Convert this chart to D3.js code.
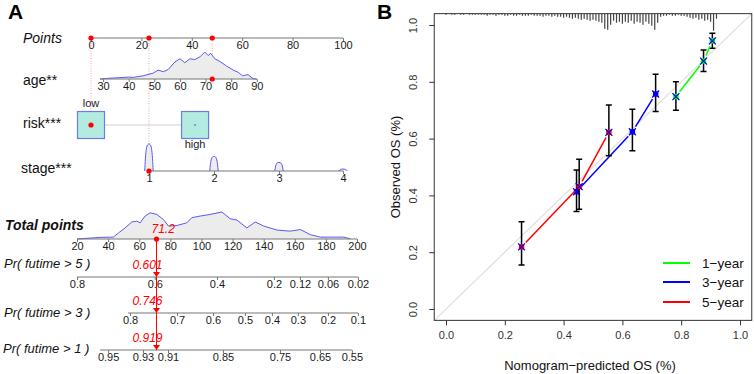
<!DOCTYPE html>
<html>
<head>
<meta charset="utf-8">
<script src="https://cdnjs.cloudflare.com/ajax/libs/d3/7.8.5/d3.min.js"></script>
<style>
body { margin: 0; background: #fff; }
svg { display: block; font-family: "Liberation Sans", Arial, Helvetica, sans-serif; }
</style>
</head>
<body>
<script>
// ---------- panel A: nomogram ----------
var pointTicks = [0, 20, 40, 60, 80, 100];
var ageTicks = [30, 40, 50, 60, 70, 80, 90];
var ageDomain = [30, 90];
var agePointRange = [4.8, 65.8];
var ageGrid = [28.8, 32.7, 36.6, 39.9, 41.8, 45.7, 49.6, 51.5, 53.5, 55.4, 58, 60, 61.9, 63.9, 65.8, 67.8, 69.7, 71, 72, 73.6, 75.6, 78.2, 80.8, 82.7, 84.4, 86.6, 88.6, 89.9];
var ageDens = [0, .03, .05, .07, .06, .12, .22, .33, .27, .35, .63, .75, .60, .75, .72, .82, 1.0, .87, .95, .75, .65, .48, .33, .25, .12, .16, .01, 0];
var riskLevels = ["low", "high"];
var riskPoints = [0, 41.3];
var stageLevels = [1, 2, 3, 4];
var stagePoints = [23, 48.8, 74.6, 100];
var stageDens = [1, 0.54, 0.32, 0.07];
var bumpOffset = [-0.065, -0.055, -0.04, -0.02, 0, 0.02, 0.04, 0.055, 0.065];
var bumpShape = [0, 0.45, 0.82, 0.97, 1, 0.97, 0.82, 0.45, 0];
var totalTicks = [20, 40, 60, 80, 100, 120, 140, 160, 180, 200];
var totGrid = [20, 34.7, 43.3, 46.6, 50.9, 55.2, 58.4, 60.6, 63.8, 67, 71.3, 75.6, 78.8, 84.2, 90.6, 93.8, 99.2, 105.6, 113.1, 118.5, 122.8, 129.2, 134.6, 140, 148.6, 157.1, 163.6, 170, 176.4, 185, 191.4, 195.7];
var totDens = [0, .06, .07, .22, .41, .63, .66, .60, .85, .97, .91, .72, .48, .50, .60, .79, .85, .91, 1.0, .75, .70, .41, .63, .48, .33, .29, .35, .16, .07, .07, .07, .01];
var pr5Labels = ["0.8", "0.6", "0.4", "0.2", "0.12", "0.06", "0.02"];
var pr5At = [20, 70, 110, 146.6, 163.3, 181.3, 200.6];
var pr3Labels = ["0.8", "0.7", "0.6", "0.5", "0.4", "0.3", "0.2", "0.1"];
var pr3At = [54.1, 84.3, 107.4, 128, 145.3, 162, 181.3, 200.6];
var pr1Labels = ["0.95", "0.93", "0.91", "0.85", "0.75", "0.65", "0.55"];
var pr1At = [40, 62.4, 78.5, 113.8, 150.5, 176.2, 196.7];
var patientAge = 72.6, patientRisk = "low", patientStage = 1;
var totalLabel = "71.2";
var prLabels = ["0.601", "0.746", "0.919"];

// ---------- panel B: calibration ----------
var seriesNames = ["1\u2212year", "3\u2212year", "5\u2212year"];
var pred1 = [0.782, 0.876, 0.906], obs1 = [0.748, 0.873, 0.944], lo1 = [0.70, 0.836, 0.918], hi1 = [0.80, 0.912, 0.971];
var pred3 = [0.444, 0.634, 0.713], obs3 = [0.413, 0.624, 0.757], lo3 = [0.343, 0.557, 0.695], hi3 = [0.489, 0.703, 0.827];
var pred5 = [0.257, 0.453, 0.554], obs5 = [0.219, 0.431, 0.622], lo5 = [0.155, 0.351, 0.54], hi5 = [0.307, 0.527, 0.718];
var axisTicksB = [0, 0.2, 0.4, 0.6, 0.8, 1.0];
var rugStep = 0.01;
var rugCounts = [1,0,1,1,0,1,1,0,1,1,1,
  1,1,1,2,1,1,2,1,1,2,
  2,1,2,2,1,2,2,2,1,2,
  2,2,3,2,2,3,2,3,3,4,
  3,4,5,4,5,6,5,6,7,6,
  7,8,9,15,16,11,7,9,8,10,
  8,9,7,10,8,9,11,8,10,12,
  16,9,3,2,2,1,2,2,1,2,
  2,3,4,5,4,6,5,7,6,8,17,5];

var seriesColors = ["#00ff00", "#0000ff", "#ff0000"];

var svg = d3.select("body").append("svg")
    .attr("width", 754)
    .attr("height", 374);
svg.append("rect").attr("width", 754).attr("height", 374).attr("fill", "#fff");

// ================= panel A =================
var A = svg.append("g");
var rowY = { points: 38, age: 79, risk: 125, stage: 171, total: 239, pr5: 277, pr3: 313, pr1: 350 };

var ptsX = d3.scaleLinear().domain([0, 100]).range([91, 343]);
var totX = d3.scaleLinear().domain([20, 200]).range([77, 357]);
var agePts = d3.scaleLinear().domain(ageDomain).range(agePointRange);
var ageX = function (v) { return ptsX(agePts(v)); };
var stageX = d3.scaleLinear().domain(stageLevels).range(stagePoints.map(ptsX));
var densH = d3.scaleLinear().domain([0, 1]).range([0, 27]);

A.append("text").attr("x", 8).attr("y", 19).attr("font-size", 21).attr("font-weight", "bold").text("A");

function drawAxis(y, scale, values, labels, x0, x1) {
    A.append("line").attr("x1", x0).attr("x2", x1).attr("y1", y).attr("y2", y)
        .attr("stroke", "#777").attr("stroke-width", 1.2);
    var ax = d3.axisBottom(scale).tickValues(values).tickSize(3).tickSizeOuter(0).tickPadding(0)
        .tickFormat(function (d, i) { return labels ? labels[i] : d; });
    var g = A.append("g").attr("transform", "translate(0," + y + ")").call(ax);
    g.select(".domain").remove();
    g.selectAll("line").attr("stroke", "#777");
    g.selectAll("text").attr("font-size", 11).attr("fill", "#1a1a1a")
        .attr("font-family", "Liberation Sans, Arial, sans-serif");
}

function rowLabel(x, y, txt, size, italic, bold) {
    A.append("text").attr("x", x).attr("y", y).attr("dy", "0.35em")
        .attr("font-size", size)
        .attr("font-style", italic ? "italic" : "normal")
        .attr("font-weight", bold ? "bold" : "normal")
        .attr("fill", "#111").text(txt);
}

rowLabel(23, rowY.points, "Points", 14, true, false);
rowLabel(23, rowY.age + 1, "age**", 14, false, false);
rowLabel(23, rowY.risk - 2, "risk***", 14, false, false);
rowLabel(21, rowY.stage - 3, "stage***", 14, false, false);
rowLabel(5, 225, "Total points", 14, true, true);
rowLabel(4, 263, "Pr( futime > 5 )", 13, true, false);
rowLabel(4, 312, "Pr( futime > 3 )", 13, true, false);
rowLabel(3, 348, "Pr( futime > 1 )", 13, true, false);

// densities
var densFill = "#ececec", densLine = "#5a5af0";
function drawDensity(xs, grid, dens, y) {
    var pts = grid.map(function (g, i) { return [xs(g), y - densH(dens[i])]; });
    A.append("path").datum(pts)
        .attr("d", d3.area().x(function (d) { return d[0]; }).y0(y).y1(function (d) { return d[1]; }))
        .attr("fill", densFill);
    A.append("path").datum(pts)
        .attr("d", d3.line().x(function (d) { return d[0]; }).y(function (d) { return d[1]; }))
        .attr("fill", "none").attr("stroke", densLine).attr("stroke-width", 1);
}

// patient selections
var ageP = agePts(patientAge);
var riskP = riskPoints[riskLevels.indexOf(patientRisk)];
var stageP = stagePoints[stageLevels.indexOf(patientStage)];
var totalP = ageP + riskP + stageP;

// pink guide lines
var guides = [[ptsX(riskP), rowY.risk], [ptsX(stageP), rowY.stage], [ptsX(ageP), rowY.age]];
guides.forEach(function (g) {
    A.append("line").attr("x1", g[0]).attr("x2", g[0]).attr("y1", rowY.points).attr("y2", g[1])
        .attr("stroke", "#f28a8a").attr("stroke-width", 0.8).attr("stroke-dasharray", "1,1.5");
});

// Points axis
drawAxis(rowY.points, ptsX, pointTicks, null, ptsX(0), ptsX(100));

// age
drawDensity(ageX, ageGrid, ageDens, rowY.age);
var ageAxisScale = d3.scaleLinear().domain(ageDomain).range([ageX(30), ageX(90)]);
drawAxis(rowY.age, ageAxisScale, ageTicks, null, ageX(ageGrid[0]), ageX(90));

// risk boxes
var box = 27;
A.append("line").attr("x1", ptsX(riskPoints[0]) + box / 2).attr("x2", ptsX(riskPoints[1]) - box / 2)
    .attr("y1", rowY.risk).attr("y2", rowY.risk).attr("stroke", "#cfcfcf").attr("stroke-width", 1);
riskLevels.forEach(function (lv, i) {
    var cx = ptsX(riskPoints[i]);
    A.append("rect").attr("x", cx - box / 2).attr("y", rowY.risk - box / 2)
        .attr("width", box).attr("height", box)
        .attr("fill", "#b3ebe1").attr("stroke", "#6b7de8").attr("stroke-width", 1.2);
    A.append("circle").attr("cx", cx).attr("cy", rowY.risk).attr("r", 0.7).attr("fill", "#333");
    A.append("text").attr("x", cx).attr("y", i === 0 ? rowY.risk - box / 2 - 8 : rowY.risk + box / 2 + 6)
        .attr("dy", "0.35em").attr("text-anchor", "middle").attr("font-size", 11).attr("fill", "#222").text(lv);
});

// stage bumps
stageLevels.forEach(function (lv, i) {
    var pts = bumpOffset.map(function (o, j) {
        return [stageX(lv) + o * (stageX(2) - stageX(1)), rowY.stage - densH(stageDens[i] * bumpShape[j])];
    });
    A.append("path").datum(pts)
        .attr("d", d3.area().x(function (d) { return d[0]; }).y0(rowY.stage).y1(function (d) { return d[1]; }).curve(d3.curveMonotoneX))
        .attr("fill", densFill);
    A.append("path").datum(pts)
        .attr("d", d3.line().x(function (d) { return d[0]; }).y(function (d) { return d[1]; }).curve(d3.curveMonotoneX))
        .attr("fill", "none").attr("stroke", densLine).attr("stroke-width", 1);
});
drawAxis(rowY.stage, stageX, stageLevels, null, stageX(1), stageX(4));

// total points
drawDensity(totX, totGrid, totDens, rowY.total);
drawAxis(rowY.total, totX, totalTicks, null, totX(20), totX(200));

// probability axes
drawAxis(rowY.pr5, totX, pr5At, pr5Labels, totX(pr5At[0]), totX(pr5At[pr5At.length - 1]));
drawAxis(rowY.pr3, totX, pr3At, pr3Labels, totX(pr3At[0]) - 2, totX(pr3At[pr3At.length - 1]));
drawAxis(rowY.pr1, totX, pr1At, pr1Labels, totX(pr1At[0]) - 8, totX(pr1At[pr1At.length - 1]));

// red result line, dots, triangles and labels
var tx = totX(totalP);
A.append("line").attr("x1", tx).attr("x2", tx).attr("y1", rowY.total).attr("y2", rowY.pr1)
    .attr("stroke", "#ff0000").attr("stroke-width", 1);
[[ptsX(0), rowY.points], [ptsX(stageP), rowY.points], [ptsX(ageP), rowY.points],
 [ptsX(ageP), rowY.age], [ptsX(riskP), rowY.risk], [ptsX(stageP), rowY.stage], [tx, rowY.total]]
    .forEach(function (p) {
        A.append("circle").attr("cx", p[0]).attr("cy", p[1]).attr("r", 2.6).attr("fill", "#ff0000");
    });
A.append("text").attr("x", tx - 5).attr("y", rowY.total - 6).attr("font-size", 12).attr("font-style", "italic")
    .attr("fill", "#ff0000").text(totalLabel);
[rowY.pr5, rowY.pr3, rowY.pr1].forEach(function (y, i) {
    A.append("path").attr("d", "M" + (tx - 3.5) + "," + (y - 5) + "L" + (tx + 3.5) + "," + (y - 5) + "L" + tx + "," + y + "Z")
        .attr("fill", "#ff0000");
    A.append("text").attr("x", tx + 6).attr("y", y - 8).attr("text-anchor", "end").attr("font-size", 12)
        .attr("font-style", "italic").attr("fill", "#ff0000").text(prLabels[i]);
});

// ================= panel B =================
var B = svg.append("g");
var bx = d3.scaleLinear().domain([0, 1]).range([446, 740]);
var by = d3.scaleLinear().domain([0, 1]).range([309, 25]);
var bx0 = bx(-0.04), bx1 = bx(1.04), by0 = by(-0.04), by1 = by(1.04);

B.append("text").attr("x", 377).attr("y", 19).attr("font-size", 21).attr("font-weight", "bold").text("B");

B.append("clipPath").attr("id", "clipB").append("rect")
    .attr("x", bx0).attr("y", by1).attr("width", bx1 - bx0).attr("height", by0 - by1);
var plot = B.append("g").attr("clip-path", "url(#clipB)");

// diagonal reference
plot.append("line").attr("x1", bx(-0.04)).attr("y1", by(-0.04)).attr("x2", bx(1.04)).attr("y2", by(1.04))
    .attr("stroke", "#e0e0e0").attr("stroke-width", 1.3);

// risk distribution rug
plot.selectAll("line.rug").data(rugCounts).enter().append("line").attr("class", "rug")
    .attr("x1", function (d, i) { return bx(i * rugStep); })
    .attr("x2", function (d, i) { return bx(i * rugStep); })
    .attr("y1", by1)
    .attr("y2", function (d) { return by1 + d; })
    .attr("stroke", "#444").attr("stroke-width", 1.2);

var series = [[pred1, obs1, lo1, hi1], [pred3, obs3, lo3, hi3], [pred5, obs5, lo5, hi5]];
series.forEach(function (s, k) {
    var col = seriesColors[k];
    var pred = s[0], obs = s[1], lo = s[2], hi = s[3];
    // error bars
    pred.forEach(function (p, i) {
        var x = bx(p);
        plot.append("line").attr("x1", x).attr("x2", x).attr("y1", by(lo[i])).attr("y2", by(hi[i]))
            .attr("stroke", "#000").attr("stroke-width", 1.5);
        [lo[i], hi[i]].forEach(function (v) {
            plot.append("line").attr("x1", x - 3).attr("x2", x + 3).attr("y1", by(v)).attr("y2", by(v))
                .attr("stroke", "#000").attr("stroke-width", 1.5);
        });
    });
    // connecting lines with gaps at the points
    for (var i = 0; i < pred.length - 1; i++) {
        var xa = bx(pred[i]), ya = by(obs[i]), xb = bx(pred[i + 1]), yb = by(obs[i + 1]);
        var len = Math.sqrt((xb - xa) * (xb - xa) + (yb - ya) * (yb - ya)), gap = 6;
        if (len <= 2 * gap) continue;
        var ux = (xb - xa) / len, uy = (yb - ya) / len;
        plot.append("line").attr("x1", xa + ux * gap).attr("y1", ya + uy * gap)
            .attr("x2", xb - ux * gap).attr("y2", yb - uy * gap)
            .attr("stroke", col).attr("stroke-width", 1.5);
    }
    // points and corrected estimates
    pred.forEach(function (p, i) {
        var x = bx(p), y = by(obs[i]);
        plot.append("rect").attr("x", x - 2.7).attr("y", y - 2.7).attr("width", 5.4).attr("height", 5.4).attr("fill", col);
        plot.append("path").attr("d", "M" + (x - 3.5) + "," + (y - 3.5) + "L" + (x + 3.5) + "," + (y + 3.5) +
            "M" + (x - 3.5) + "," + (y + 3.5) + "L" + (x + 3.5) + "," + (y - 3.5))
            .attr("stroke", "#0000ff").attr("stroke-width", 1.2);
    });
});

// frame
B.append("rect").attr("x", bx0).attr("y", by1).attr("width", bx1 - bx0).attr("height", by0 - by1)
    .attr("fill", "none").attr("stroke", "#333").attr("stroke-width", 1);

// axes
var xAx = B.append("g").attr("transform", "translate(0," + by0 + ")")
    .call(d3.axisBottom(bx).tickValues(axisTicksB).tickFormat(d3.format(".1f")).tickSize(5).tickSizeOuter(0).tickPadding(6));
xAx.select(".domain").remove();
xAx.selectAll("line").attr("stroke", "#333");
xAx.selectAll("text").attr("font-size", 11).attr("fill", "#333").attr("font-family", "Liberation Sans, Arial, sans-serif");

var yAx = B.append("g").attr("transform", "translate(" + bx0 + ",0)")
    .call(d3.axisLeft(by).tickValues(axisTicksB).tickFormat(d3.format(".1f")).tickSize(5).tickSizeOuter(0));
yAx.select(".domain").remove();
yAx.selectAll("line").attr("stroke", "#333");
yAx.selectAll("text").attr("font-size", 11).attr("fill", "#333").attr("font-family", "Liberation Sans, Arial, sans-serif")
    .attr("transform", "rotate(-90)").attr("x", 0).attr("y", -17).attr("dy", 0).attr("text-anchor", "middle");

B.append("text").attr("x", 590).attr("y", 365).attr("dy", "0.35em").attr("text-anchor", "middle")
    .attr("font-size", 13).attr("fill", "#111").text("Nomogram\u2212predicted OS (%)");
B.append("text").attr("transform", "translate(395,167) rotate(-90)").attr("dy", "0.35em").attr("text-anchor", "middle")
    .attr("font-size", 13).attr("fill", "#111").text("Observed OS (%)");

// legend
var legY = [263, 282, 302];
seriesNames.forEach(function (nm, i) {
    B.append("line").attr("x1", 663).attr("x2", 690).attr("y1", legY[i]).attr("y2", legY[i])
        .attr("stroke", seriesColors[i]).attr("stroke-width", 2);
    B.append("text").attr("x", 702).attr("y", legY[i]).attr("dy", "0.35em").attr("font-size", 13.5)
        .attr("fill", "#111").text(nm);
});
</script>
</body>
</html>
